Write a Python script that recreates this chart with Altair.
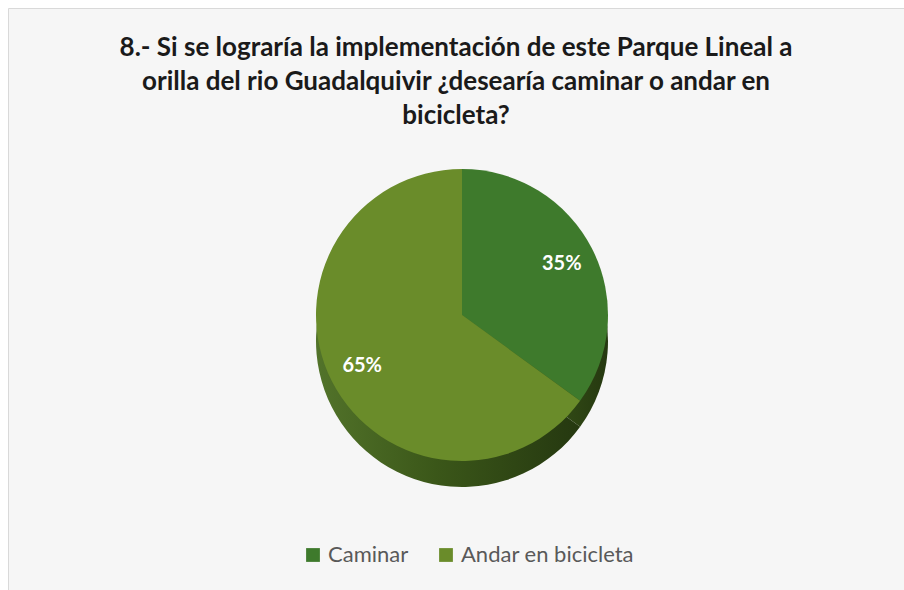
import altair as alt
import pandas as pd

categories = ["Caminar", "Andar en bicicleta"]
values = [35, 65]
labels = ["35%", "65%"]
colors = ["#3E7A2C", "#6A8C2A"]

df = pd.DataFrame({"categoria": categories, "valor": values, "etiqueta": labels, "orden": [0, 1]})

title_lines = [
    "8.- Si se lograría la implementación de este Parque Lineal a",
    "orilla del rio Guadalquivir ¿desearía caminar o andar en",
    "bicicleta?",
]

cx, cy = 454, 307
R = 146
depth = 26

base = alt.Chart(df)

side = base.mark_arc(
    outerRadius=R,
    fill=alt.LinearGradient(
        gradient="linear",
        stops=[
            alt.GradientStop(color="#52732A", offset=0),
            alt.GradientStop(color="#3B5719", offset=0.45),
            alt.GradientStop(color="#253810", offset=1),
        ],
        x1=0, x2=1, y1=0, y2=0,
    ),
).encode(
    theta=alt.Theta("valor:Q", stack=True),
    order=alt.Order("orden:Q"),
    x=alt.value(cx),
    y=alt.value(cy + depth),
)

top = base.mark_arc(outerRadius=R).encode(
    theta=alt.Theta("valor:Q", stack=True),
    order=alt.Order("orden:Q"),
    color=alt.Color(
        "categoria:N",
        scale=alt.Scale(domain=categories, range=colors),
        sort=categories,
        legend=alt.Legend(
            title=None,
            orient="none",
            direction="horizontal",
            legendX=294,
            legendY=536,
            symbolType="square",
            symbolSize=190,
            symbolStrokeWidth=0,
            labelFontSize=22,
            labelFont="Lato",
            labelColor="#595959",
            labelLimit=0,
            columnPadding=26,
            labelOffset=4,
        ),
    ),
    x=alt.value(cx),
    y=alt.value(cy),
)

text = base.mark_text(
    radius=112, font="Lato", fontSize=20, fontWeight="bold", color="white"
).encode(
    theta=alt.Theta("valor:Q", stack=True),
    order=alt.Order("orden:Q"),
    text="etiqueta:N",
    x=alt.value(cx),
    y=alt.value(cy),
)

chart = (
    alt.layer(side, top, text)
    .properties(
        width=896,
        height=582,
        padding={"left": 8, "top": 8, "right": 0, "bottom": 0},
        autosize=alt.AutoSizeParams(type="none"),
        background="white",
        title=alt.TitleParams(
            text=title_lines,
            anchor="middle",
            font="Lato",
            fontSize=26,
            fontWeight="bold",
            color="#1a1a1a",
            lineHeight=34,
            baseline="top",
            offset=-121,
        ),
    )
    .configure_view(fill="#F6F6F6", stroke="#D9D9D9", strokeWidth=1)
)

chart.save("out.html", embed_options={"renderer": "svg", "actions": False})
